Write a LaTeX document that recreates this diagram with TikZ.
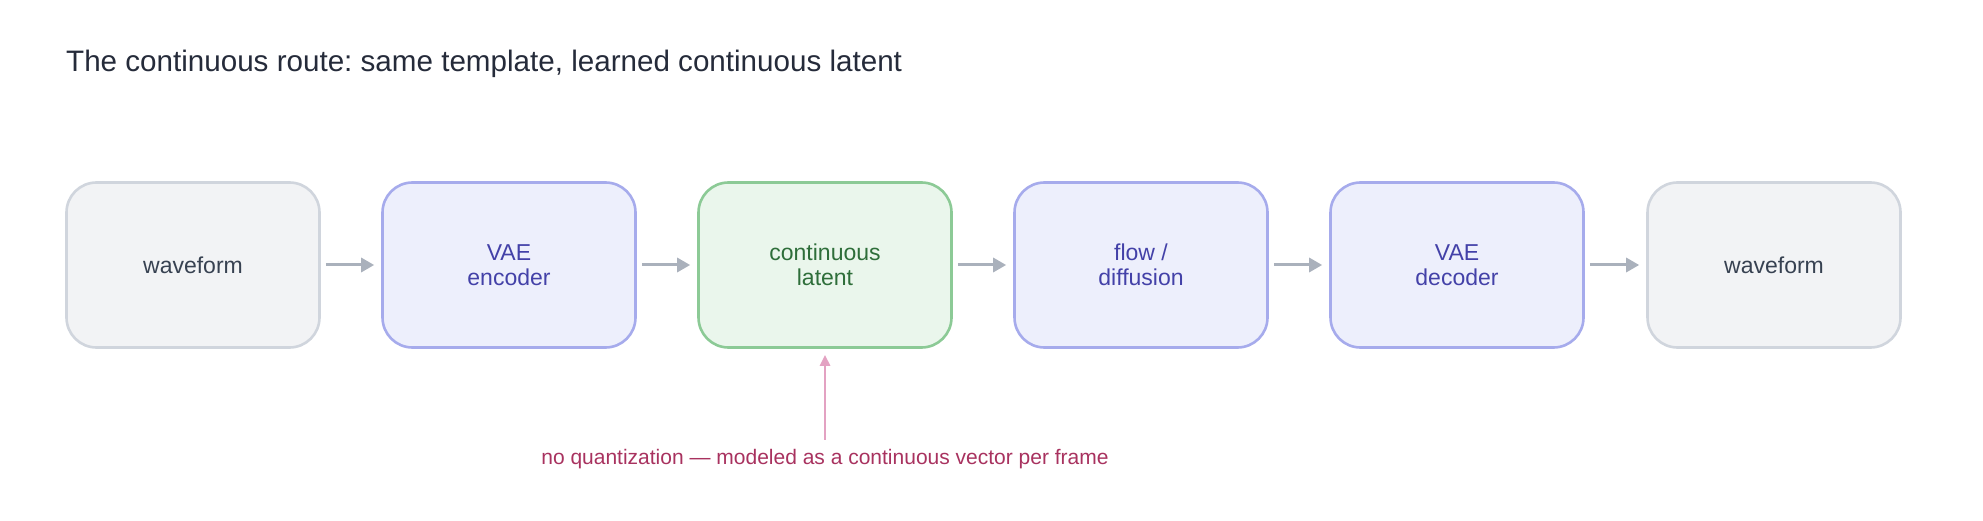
\documentclass[tikz,border=0pt]{standalone}
\usepackage{fontspec}
\setmainfont{Liberation Sans}
\usetikzlibrary{arrows.meta}
\frenchspacing
\definecolor{titlecol}{HTML}{252B3A}
\definecolor{grayfill}{HTML}{F2F3F5}
\definecolor{graydraw}{HTML}{D0D5DD}
\definecolor{graytext}{HTML}{374151}
\definecolor{bluefill}{HTML}{EDEFFC}
\definecolor{bluedraw}{HTML}{A6ABEC}
\definecolor{bluetext}{HTML}{4341A8}
\definecolor{greenfill}{HTML}{EAF6EC}
\definecolor{greendraw}{HTML}{8CCA96}
\definecolor{greentext}{HTML}{2E6E3A}
\definecolor{arrcol}{HTML}{AAB1BC}
\definecolor{pinkarr}{HTML}{E3A2C2}
\definecolor{pinktext}{HTML}{A8325F}
\begin{document}
\begin{tikzpicture}[x=1pt,y=-1pt,
  box/.style={rounded corners=30pt, minimum width=253pt, minimum height=165pt,
    line width=2.6pt, align=center, inner sep=0pt,
    font=\fontsize{23}{25}\selectfont},
  graybox/.style={box, fill=grayfill, draw=graydraw, text=graytext},
  bluebox/.style={box, fill=bluefill, draw=bluedraw, text=bluetext},
  greenbox/.style={box, fill=greenfill, draw=greendraw, text=greentext},
  flowarr/.style={draw=arrcol, line width=3pt, -{Triangle[length=13pt,width=14pt]},
    shorten <=5pt, shorten >=7pt},
  notearr/.style={draw=pinkarr, line width=2.5pt, -{Triangle[length=11pt,width=10pt]},
    shorten <=0pt, shorten >=6pt}]
\useasboundingbox (0,0) rectangle (1983,521);
\node[anchor=base west, text=titlecol, inner sep=0pt, font=\fontsize{29.6}{32}\selectfont]
  (title) at (66,72) {The continuous route: same template, learned continuous latent};
\node[graybox] (w1) at (193,265) {waveform};
\node[bluebox] (enc) at (509,265) {VAE\\encoder};
\node[greenbox] (lat) at (825,265) {continuous\\latent};
\node[bluebox] (flow) at (1141,265) {flow /\\diffusion};
\node[bluebox] (dec) at (1457,265) {VAE\\decoder};
\node[graybox] (w2) at (1774,265) {waveform};
\draw[flowarr] (w1) -- (enc);
\draw[flowarr] (enc) -- (lat);
\draw[flowarr] (lat) -- (flow);
\draw[flowarr] (flow) -- (dec);
\draw[flowarr] (dec) -- (w2);
\node[anchor=base, text=pinktext, inner sep=0pt, font=\fontsize{21}{24}\selectfont]
  (note) at (825,464) {no quantization — modeled as a continuous vector per frame};
\draw[notearr] ([yshift=9pt]note.north) -- (lat.south);
\end{tikzpicture}
\end{document}
